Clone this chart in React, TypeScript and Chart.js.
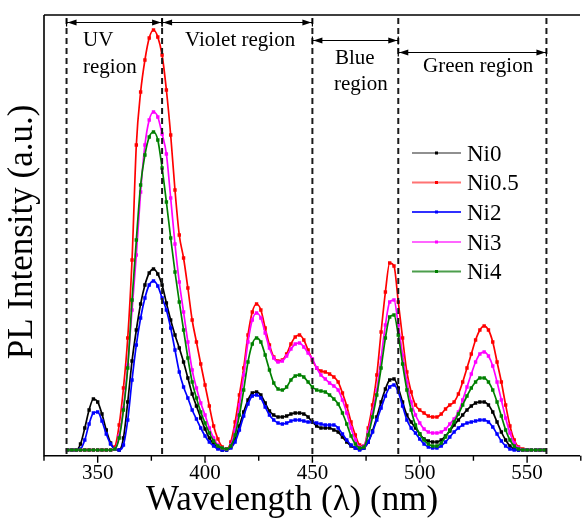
import React, { useEffect, useRef } from "react";
import { Chart, registerables } from "chart.js";
Chart.register(...registerables);

// Sampling grid (nm)
const wavelengths: number[] = Array.from({ length: 112 }, (_, i) => 336 + 2 * i);

// PL intensity (a.u.) at each wavelength
const ni0 = [
  0, 0, 0, 6, 22, 40, 51, 48, 36, 20,
  7, 1, 0, 12, 48, 89, 120, 146, 165, 177,
  181, 176, 165, 147, 130, 115, 102, 88, 72, 56,
  44, 32, 21, 12, 6, 2, 0, 0, 3, 11,
  24, 38, 50, 57, 58, 55, 47, 39, 35, 33,
  33, 34, 36, 37, 37, 36, 33, 28, 24, 22,
  22, 22, 20, 18, 13, 8, 4, 2, 1, 2,
  8, 19, 33, 48, 61, 70, 71, 62, 48, 35,
  28, 22, 16, 11, 9, 8, 8, 10, 14, 19,
  25, 30, 35, 40, 44, 47, 48, 48, 45, 38,
  28, 18, 10, 4, 1, 0, 0, 0, 0, 0,
  0, 0,
];
const ni05 = [
  0, 0, 0, 0, 0, 0, 0, 0, 0, 0,
  0, 3, 25, 62, 112, 190, 305, 358, 390, 412,
  420, 413, 395, 360, 315, 260, 215, 192, 162, 130,
  108, 86, 65, 44, 24, 11, 3, 1, 8, 28,
  55, 82, 115, 138, 146, 140, 122, 105, 93, 89,
  90, 96, 106, 113, 115, 110, 100, 90, 82, 79,
  78, 76, 73, 68, 57, 44, 28, 15, 5, 4,
  22, 45, 75, 118, 158, 187, 184, 148, 112, 78,
  58, 45, 40, 37, 34, 33, 33, 36, 41, 45,
  48, 56, 68, 82, 96, 110, 120, 124, 120, 108,
  88, 68, 45, 24, 10, 3, 1, 0, 0, 0,
  0, 0,
];
const ni2 = [
  0, 0, 0, 1, 10, 26, 37, 38, 29, 16,
  6, 1, 0, 5, 30, 70, 105, 132, 152, 165,
  169, 164, 152, 140, 122, 100, 78, 63, 52, 40,
  31, 22, 14, 8, 4, 1, 0, 0, 2, 8,
  20, 34, 46, 54, 55, 52, 43, 35, 30, 27,
  26, 27, 29, 30, 30, 29, 28, 28, 27, 26,
  25, 25, 25, 22, 16, 10, 5, 2, 0, 2,
  8, 18, 30, 42, 54, 63, 65, 58, 44, 30,
  22, 17, 11, 6, 3, 2, 2, 4, 8, 13,
  18, 22, 25, 27, 28, 29, 30, 30, 28, 23,
  16, 9, 4, 1, 0, 0, 0, 0, 0, 0,
  0, 0,
];
const ni3 = [
  0, 0, 0, 0, 0, 0, 0, 0, 0, 0,
  0, 1, 14, 42, 85, 140, 195, 258, 305, 330,
  338, 333, 316, 296, 252, 206, 168, 138, 108, 80,
  62, 47, 35, 22, 12, 5, 2, 1, 5, 20,
  45, 75, 108, 130, 137, 132, 117, 102, 92, 88,
  89, 94, 101, 106, 107, 103, 97, 91, 82, 75,
  71, 67, 64, 60, 50, 37, 22, 10, 3, 4,
  18, 38, 60, 92, 125, 148, 150, 125, 95, 68,
  48, 35, 27, 21, 18, 17, 17, 18, 21, 26,
  31, 38, 50, 63, 76, 88, 96, 98, 94, 84,
  68, 50, 32, 17, 7, 2, 0, 0, 0, 0,
  0, 0,
];
const ni4 = [
  0, 0, 0, 0, 0, 0, 0, 0, 0, 0,
  0, 1, 12, 40, 82, 150, 210, 265, 295, 313,
  318, 310, 282, 248, 212, 178, 148, 120, 92, 68,
  52, 38, 27, 17, 9, 4, 2, 1, 4, 15,
  35, 60, 88, 106, 112, 108, 95, 80, 67, 61,
  60, 63, 70, 74, 75, 73, 68, 63, 60, 59,
  58, 55, 51, 46, 37, 26, 14, 6, 2, 3,
  15, 33, 55, 82, 112, 133, 135, 115, 86, 60,
  40, 25, 16, 10, 6, 4, 4, 7, 13, 20,
  28, 36, 45, 54, 62, 68, 72, 72, 68, 60,
  48, 34, 20, 10, 4, 1, 0, 0, 0, 0,
  0, 0,
];

const seriesNames = ["Ni0", "Ni0.5", "Ni2", "Ni3", "Ni4"];
const seriesValues = [ni0, ni05, ni2, ni3, ni4];
const seriesColors = ["#000000", "#ff0000", "#0000ff", "#ff00ff", "#008000"];
const legendColors = ["#222222", "#ff7373", "#3030ff", "#ff66ff", "#4c9e4c"];

const majorTicks = [350, 400, 450, 500, 550];
const minorTicks = [325, 375, 425, 475, 525, 575];
const regionBounds = [335.5, 380, 450, 490, 559];

const FONT = "'Liberation Serif', 'DejaVu Serif', serif";

const overlay = {
  id: "overlay",
  afterDraw(chart: any) {
    const ctx = chart.ctx as CanvasRenderingContext2D;
    const xs = chart.scales.x;
    const { left, top, right, bottom } = chart.chartArea;
    ctx.save();
    // frame
    ctx.strokeStyle = "#000";
    ctx.lineWidth = 1.6;
    ctx.beginPath();
    ctx.moveTo(left, top);
    ctx.lineTo(right + 2, top);
    ctx.moveTo(left, top);
    ctx.lineTo(left, bottom);
    ctx.lineTo(right + 2, bottom);
    ctx.stroke();
    // ticks
    ctx.lineWidth = 1.4;
    ctx.beginPath();
    majorTicks.forEach((t) => {
      const x = xs.getPixelForValue(t);
      ctx.moveTo(x, bottom);
      ctx.lineTo(x, bottom + 7);
    });
    minorTicks.forEach((t) => {
      const x = xs.getPixelForValue(t);
      ctx.moveTo(x, bottom);
      ctx.lineTo(x, bottom + 5);
    });
    ctx.stroke();
    ctx.fillStyle = "#000";
    ctx.font = `21px ${FONT}`;
    ctx.textAlign = "center";
    ctx.textBaseline = "alphabetic";
    majorTicks.forEach((t) => {
      ctx.fillText(String(t), xs.getPixelForValue(t), 479);
    });
    // axis titles
    ctx.font = `35px ${FONT}`;
    ctx.fillText("Wavelength (\u03bb) (nm)", 292, 510);
    ctx.save();
    ctx.translate(23, 232);
    ctx.rotate(-Math.PI / 2);
    ctx.textBaseline = "middle";
    ctx.fillText("PL Intensity (a.u.)", 0, 0);
    ctx.restore();

    // dashed region lines
    ctx.strokeStyle = "#1a1a1a";
    ctx.lineWidth = 2;
    ctx.setLineDash([6, 4]);
    ctx.beginPath();
    regionBounds.forEach((w) => {
      const x = xs.getPixelForValue(w);
      ctx.moveTo(x, 18);
      ctx.lineTo(x, bottom);
    });
    ctx.stroke();
    ctx.setLineDash([]);

    // arrows
    const arrow = (w1: number, w2: number, y: number) => {
      const x1 = xs.getPixelForValue(w1);
      const x2 = xs.getPixelForValue(w2);
      ctx.strokeStyle = "#000";
      ctx.fillStyle = "#000";
      ctx.lineWidth = 1.2;
      ctx.beginPath();
      ctx.moveTo(x1, y);
      ctx.lineTo(x2, y);
      ctx.moveTo(x1, y - 4);
      ctx.lineTo(x1, y + 4);
      ctx.moveTo(x2, y - 4);
      ctx.lineTo(x2, y + 4);
      ctx.stroke();
      ctx.beginPath();
      ctx.moveTo(x1 + 1, y);
      ctx.lineTo(x1 + 10, y - 3);
      ctx.lineTo(x1 + 10, y + 3);
      ctx.closePath();
      ctx.moveTo(x2 - 1, y);
      ctx.lineTo(x2 - 10, y - 3);
      ctx.lineTo(x2 - 10, y + 3);
      ctx.closePath();
      ctx.fill();
    };
    arrow(regionBounds[0], regionBounds[1], 22.5);
    arrow(regionBounds[1], regionBounds[2], 22.5);
    arrow(regionBounds[2], regionBounds[3], 40.5);
    arrow(regionBounds[3], regionBounds[4], 52.5);

    ctx.fillStyle = "#000";
    ctx.font = `21px ${FONT}`;
    ctx.textAlign = "left";
    ctx.fillText("UV", 83, 46);
    ctx.fillText("region", 83, 73);
    ctx.fillText("Violet region", 185, 46);
    ctx.fillText("Blue", 335, 64);
    ctx.fillText("region", 334, 90);
    ctx.fillText("Green region", 423, 72);

    // legend
    const rows = [153, 182.5, 212, 242, 271.5];
    ctx.font = `23px ${FONT}`;
    seriesNames.forEach((n, i) => {
      const y = rows[i];
      ctx.strokeStyle = legendColors[i];
      ctx.lineWidth = i === 0 ? 1.2 : 2;
      ctx.beginPath();
      ctx.moveTo(412, y);
      ctx.lineTo(461, y);
      ctx.stroke();
      ctx.fillStyle = seriesColors[i];
      ctx.fillRect(435, y - 1.5, 3, 3);
      ctx.fillStyle = "#000";
      ctx.fillText(n, 467, y + 7.8);
    });
    ctx.restore();
  },
};

export default function App() {
  const ref = useRef<HTMLCanvasElement | null>(null);
  useEffect(() => {
    if (!ref.current) return;
    const datasets = seriesNames.map((name, i) => ({
      label: name,
      data: wavelengths.map((w, j) => ({ x: w, y: seriesValues[i][j] })),
      borderColor: seriesColors[i],
      backgroundColor: seriesColors[i],
      pointBackgroundColor: seriesColors[i],
      borderWidth: 1.7,
      pointRadius: 2.4,
      pointStyle: "rect",
      pointBorderWidth: 0,
      cubicInterpolationMode: "monotone" as const,
      order: 4 - i,
    }));
    const chart = new Chart(ref.current, {
      type: "line",
      data: { datasets },
      options: {
        animation: false,
        responsive: false,
        devicePixelRatio: 1,
        layout: { padding: { left: 44, top: 15, right: 0, bottom: 62.3 } },
        scales: {
          x: { type: "linear", min: 325, max: 573.7, display: false },
          y: { type: "linear", min: -5.7, max: 435, display: false },
        },
        plugins: { legend: { display: false }, tooltip: { enabled: false } },
      },
      plugins: [overlay],
    });
    return () => chart.destroy();
  }, []);
  return (
    <div style={{ position: "fixed", left: 0, top: 0, width: 582, height: 518, background: "#fff" }}>
      <canvas ref={ref} width={582} height={518} />
    </div>
  );
}
